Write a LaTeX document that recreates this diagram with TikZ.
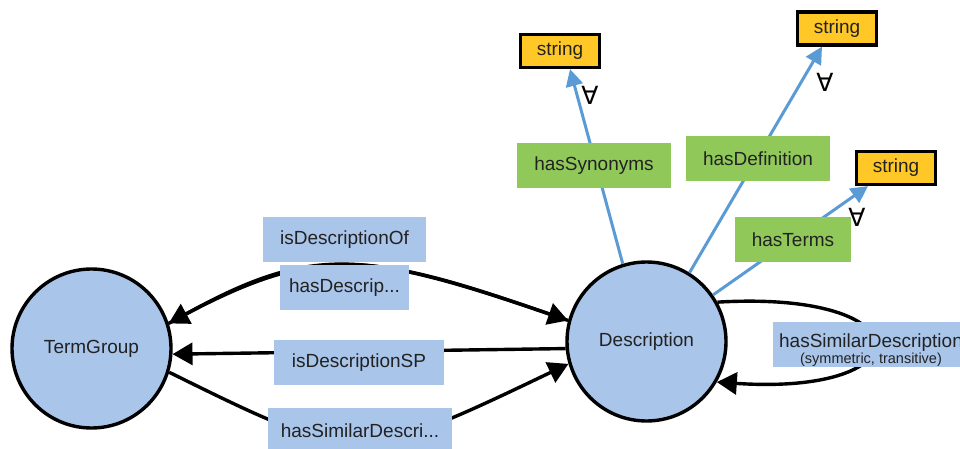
\documentclass[tikz,border=0pt]{standalone}
\usepackage{fontspec}
\setmainfont{Liberation Sans}
\newfontfamily\symfont{DejaVu Sans}
\usetikzlibrary{arrows.meta}
\definecolor{cfill}{HTML}{A9C5EA}
\definecolor{gfill}{HTML}{90C95A}
\definecolor{yfill}{HTML}{FFC826}
\definecolor{bline}{HTML}{5B9BD5}
\definecolor{txt}{HTML}{222222}
\begin{document}
\begin{tikzpicture}[x=1pt,y=-1pt,
  cls/.style={circle,draw=black,line width=3.4pt,fill=cfill,minimum size=159pt,inner sep=0pt,text=txt,font=\fontsize{19}{21}\selectfont},
  objlbl/.style={fill=cfill,inner sep=0pt,minimum height=45pt,text=txt,font=\fontsize{19}{21}\selectfont},
  datlbl/.style={fill=gfill,inner sep=0pt,minimum height=45pt,text=txt,font=\fontsize{19}{21}\selectfont},
  dtype/.style={fill=yfill,draw=black,line width=3.2pt,inner sep=0pt,minimum width=79pt,minimum height=33pt,text=txt,font=\fontsize{19}{21}\selectfont},
  obj/.style={black,line width=3.4pt,-{Triangle[length=20pt,width=22pt]}},
  dat/.style={bline,line width=3pt,-{Triangle[length=17pt,width=17pt]}},
  allq/.style={inner sep=0pt,font=\symfont\fontsize{25}{27}\selectfont}
]
\useasboundingbox (0,0) rectangle (960,449);
\clip (0,0) rectangle (960,449);

% classes
\node[cls] (tg) at (91.5,348.5) {TermGroup};
\node[cls] (desc) at (646.5,341.5) {Description};

% datatypes
\node[dtype] (s1) at (560,51) {string};
\node[dtype] (s2) at (837,28.5) {string};
\node[dtype] (s3) at (896,168) {string};

% data properties
\draw[dat] (desc.107) -- ([xshift=10pt]s1.south);
\draw[dat] (desc.58) -- ([xshift=-15pt]s2.south);
\draw[dat] (desc.35) -- ([xshift=-28pt]s3.south);

% object properties
\draw[obj] (desc.165) .. controls (365,250) and (315,243) .. (tg.18);
\draw[obj] (tg.18) .. controls (315,243) and (365,250) .. (desc.165);
\draw[obj] (desc.185) -- (tg.-4);
\draw[obj] (tg.-17) .. controls (357,465) .. (desc.196.5);
\draw[obj] (desc.29.5) .. controls (925,290) and (925,396) .. (desc.-30.5);

% labels
\node[objlbl,minimum width=163pt] (l1) at (344.5,239.5) {isDescriptionOf};
\node[objlbl,minimum width=129pt] (l2) at (344.5,287.5) {hasDescrip...};
\node[objlbl,minimum width=170pt] (l3) at (359,362.5) {isDescriptionSP};
\node[objlbl,minimum width=184pt] (l4) at (360,430.5) {hasSimilarDescri...};
\node[objlbl,minimum width=196pt] (l5) at (871,344.5) {};
\node[inner sep=0pt,align=center,text=txt,font=\fontsize{19}{21}\selectfont] (l5t) at (871,350.5)
  {\fontsize{19}{19}\selectfont hasSimilarDescription\\[-5pt]\fontsize{14.5}{14}\selectfont (symmetric, transitive)};

\node[datlbl,minimum width=154pt] (d1) at (594,165.5) {hasSynonyms};
\node[datlbl,minimum width=144pt] (d2) at (758,158.5) {hasDefinition};
\node[datlbl,minimum width=116pt] (d3) at (793,239.5) {hasTerms};

\node[allq] (q1) at (590,95) {∀};
\node[allq] (q2) at (825,82) {∀};
\node[allq] (q3) at (857,217) {∀};
\end{tikzpicture}
\end{document}
